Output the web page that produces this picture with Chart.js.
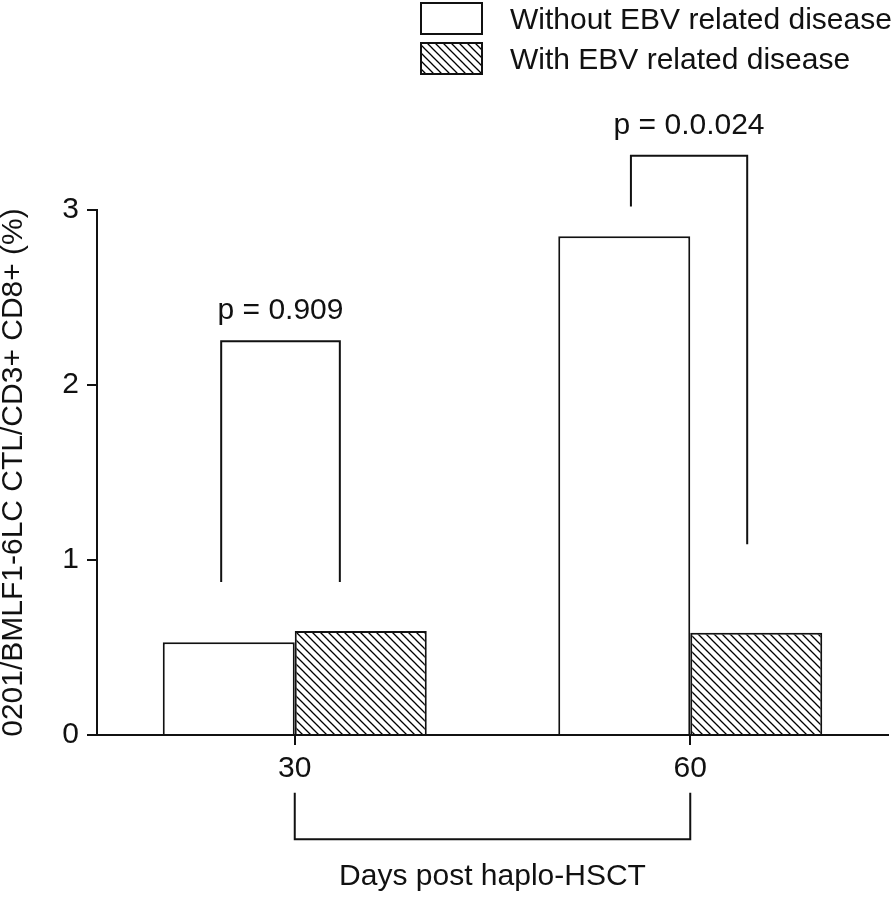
<!DOCTYPE html>
<html>
<head>
<meta charset="utf-8">
<script src="https://cdn.jsdelivr.net/npm/chart.js@4/dist/chart.umd.min.js"></script>
<style>
  html, body { margin: 0; padding: 0; background: #fff; }
  canvas { display: block; }
</style>
</head>
<body>
<canvas id="c" width="894" height="898"></canvas>
<script>
// ---- data ----
const categories = ['30', '60'];
const seriesLabels = ['Without EBV related disease', 'With EBV related disease'];
const withoutEBV = [0.53, 2.85];
const withEBV = [0.595, 0.585];
const yTickValues = [0, 1, 2, 3];
const xAxisTitle = 'Days post haplo-HSCT';
const yAxisTitle = '0201/BMLF1-6LC CTL/CD3+ CD8+ (%)';

// significance brackets (x in category units, y in data units)
const pValueLabels = ['p = 0.909', 'p = 0.0.024'];
const bracketLeftX = [-0.186, 0.850];
const bracketRightX = [0.114, 1.144];
const bracketTopY = [2.25, 3.31];
const bracketLeftEndY = [0.875, 3.02];
const bracketRightEndY = [0.875, 1.09];
// bracket joining the two time points below the axis
const timeBracketX = [0, 1];
const timeBracketY = [-0.33, -0.595];

// ---- styles ----
const FONT = '"Liberation Sans", Arial, Helvetica, sans-serif';
const INK = '#111';
Chart.defaults.font.family = FONT;
Chart.defaults.font.size = 30;
Chart.defaults.color = INK;

function makeHatch() {
  const c = document.createElement('canvas');
  c.width = 8; c.height = 8;
  const g = c.getContext('2d');
  g.fillStyle = '#fff';
  g.fillRect(0, 0, 8, 8);
  g.strokeStyle = '#000';
  g.lineWidth = 1.3;
  g.beginPath();
  g.moveTo(-2, -2); g.lineTo(10, 10);
  g.moveTo(-2, 6); g.lineTo(2, 10);
  g.moveTo(6, -2); g.lineTo(10, 2);
  g.stroke();
  return g.createPattern(c, 'repeat');
}
const hatch = makeHatch();

const annotations = {
  id: 'annotations',
  afterDraw(chart) {
    const ctx = chart.ctx;
    const xs = chart.scales.x, ys = chart.scales.y;
    ctx.save();
    ctx.strokeStyle = INK;
    ctx.lineWidth = 2;
    ctx.fillStyle = INK;
    ctx.font = '30px ' + FONT;
    // p-value brackets
    for (let i = 0; i < pValueLabels.length; i++) {
      const xl = xs.getPixelForValue(bracketLeftX[i]);
      const xr = xs.getPixelForValue(bracketRightX[i]);
      const yt = ys.getPixelForValue(bracketTopY[i]);
      ctx.beginPath();
      ctx.moveTo(xl, ys.getPixelForValue(bracketLeftEndY[i]));
      ctx.lineTo(xl, yt);
      ctx.lineTo(xr, yt);
      ctx.lineTo(xr, ys.getPixelForValue(bracketRightEndY[i]));
      ctx.stroke();
      ctx.textAlign = 'center';
      ctx.textBaseline = 'alphabetic';
      ctx.fillText(pValueLabels[i], (xl + xr) / 2, yt - 22);
    }
    // time bracket
    const bx0 = xs.getPixelForValue(timeBracketX[0]);
    const bx1 = xs.getPixelForValue(timeBracketX[1]);
    const by0 = ys.getPixelForValue(timeBracketY[0]);
    const by1 = ys.getPixelForValue(timeBracketY[1]);
    ctx.beginPath();
    ctx.moveTo(bx0, by0); ctx.lineTo(bx0, by1); ctx.lineTo(bx1, by1); ctx.lineTo(bx1, by0);
    ctx.stroke();
    // legend
    const ds = chart.data.datasets;
    const boxTops = [3, 43];
    ctx.textAlign = 'left';
    ctx.textBaseline = 'alphabetic';
    for (let i = 0; i < ds.length; i++) {
      ctx.fillStyle = ds[i].backgroundColor;
      ctx.fillRect(421, boxTops[i], 61, 31);
      ctx.strokeRect(421, boxTops[i], 61, 31);
      ctx.fillStyle = INK;
      ctx.fillText(ds[i].label, 510, boxTops[i] + 26);
    }
    ctx.restore();
  }
};

new Chart(document.getElementById('c'), {
  type: 'bar',
  data: {
    labels: categories,
    datasets: [
      { label: seriesLabels[0], data: withoutEBV, backgroundColor: '#fff', borderColor: INK, borderWidth: 2 },
      { label: seriesLabels[1], data: withEBV, backgroundColor: hatch, borderColor: INK, borderWidth: 2 }
    ]
  },
  options: {
    responsive: false,
    animation: false,
    devicePixelRatio: 1,
    layout: { padding: { top: 210, right: 6, left: 0, bottom: 0 } },
    datasets: { bar: { categoryPercentage: 0.6675, barPercentage: 1.0, borderSkipped: 'bottom' } },
    plugins: { legend: { display: false }, tooltip: { enabled: false } },
    scales: {
      x: {
        grid: { display: true, drawOnChartArea: false, offset: false, tickLength: 10, color: INK, lineWidth: 2 },
        border: { display: true, color: INK, width: 2 },
        ticks: { padding: 6, color: INK, font: { size: 30 } },
        title: { display: true, text: xAxisTitle, color: INK, font: { size: 30 }, padding: { top: 0, bottom: 3 } },
        afterFit(s) { s.height = 163; }
      },
      y: {
        min: 0, max: 3,
        afterBuildTicks(s) { s.ticks = yTickValues.map(v => ({ value: v })); },
        grid: { display: true, drawOnChartArea: false, tickLength: 10, color: INK, lineWidth: 2 },
        border: { display: true, color: INK, width: 2 },
        ticks: { padding: 8, color: INK, font: { size: 30 } },
        title: { display: true, text: yAxisTitle, color: INK, font: { size: 30 }, padding: { top: -4, bottom: 0 } },
        afterFit(s) { s.width = 97; }
      }
    }
  },
  plugins: [annotations]
});
</script>
</body>
</html>
